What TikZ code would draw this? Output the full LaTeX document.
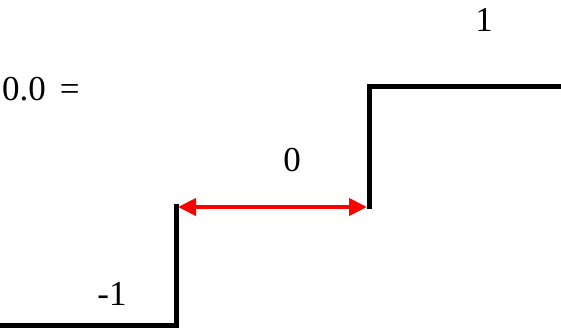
\documentclass[tikz,border=0pt]{standalone}
\usepackage{fontspec}
\setmainfont{Liberation Serif}
\usepackage{tikz}
\usetikzlibrary{arrows.meta}

\begin{document}
\begin{tikzpicture}[x=1pt, y=-1pt, step line/.style={line width=5pt, line cap=rect},
    gap/.style={red, line width=4pt, {Triangle[length=18pt,width=17pt]}-{Triangle[length=18pt,width=17pt]}},
    lbl/.style={font=\fontsize{35}{40}\selectfont, inner sep=0pt}]
      \useasboundingbox (0,0) rectangle (561,328);
      \coordinate (b0) at (-3,325);
      \coordinate (b1) at (176,325);
      \coordinate (m0) at (176,207);
      \coordinate (m1) at (369,207);
      \coordinate (t0) at (369,87);
      \coordinate (t1) at (564,87);
      \draw[step line] (b0) -- (b1) -- (m0);
      \draw[step line] (m1) -- (t0) -- (t1);
      \draw[gap] ([xshift=2pt]m0) -- ([xshift=-2pt]m1);
      \node[lbl, anchor=west] (eq) at (2,89) {0.0\hspace{0.4em}=};
      \node[lbl] (one) at (484,20) {1};
      \node[lbl] (zero) at (292,160) {0};
      \node[lbl] (mone) at (112,294) {-1};
    \end{tikzpicture}
\end{document}
